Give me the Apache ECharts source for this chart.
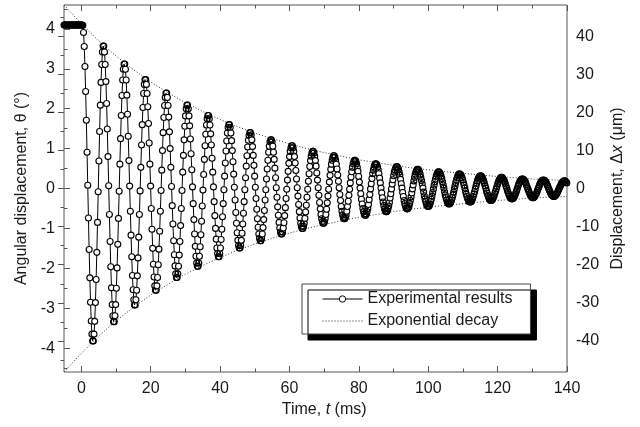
<!DOCTYPE html>
<html>
<head>
<meta charset="utf-8">
<script src="https://cdn.jsdelivr.net/npm/echarts@6/dist/echarts.min.js"></script>
<style>
  html, body { margin: 0; padding: 0; background: #fff; }
  #chart { width: 640px; height: 427px; }
</style>
</head>
<body>
<div id="chart"></div>
<script>
// sampled angular displacement (deg), one value per sample clock tick
const sampleStart = -5;      // ms
const sampleStep = 0.2013;   // ms
const thetaDeg = [
  // held at the start position before release
  4.1,4.1,4.1,4.1,4.1,4.1,4.1,4.1,4.1,4.1,4.1,4.1,4.1,4.1,4.1,4.1,4.1,4.1,4.1,4.1,4.1,4.1,4.1,4.1,4.1,4.1,4.1,
  // free oscillation, one row per period
  4.09,3.91,3.56,3.06,2.43,1.71,0.91,0.08,-0.74,-1.53,-2.24,-2.85,-3.32,-3.65,-3.82,-3.82,-3.65,-3.33,-2.86,-2.28,-1.60,-0.85,-0.08,0.69,1.43,2.09,2.66,3.11,3.42,3.57,
  3.57,3.42,3.11,2.68,2.13,1.49,0.80,0.07,-0.65,-1.33,-1.96,-2.49,-2.91,-3.19,-3.34,-3.34,-3.19,-2.91,-2.50,-1.99,-1.40,-0.75,-0.07,0.61,1.25,1.83,2.33,2.72,2.99,3.12,
  3.12,2.99,2.72,2.34,1.86,1.31,0.70,0.06,-0.57,-1.17,-1.71,-2.18,-2.54,-2.79,-2.92,-2.92,-2.79,-2.55,-2.19,-1.74,-1.22,-0.65,-0.06,0.53,1.09,1.60,2.03,2.38,2.61,2.73,
  2.73,2.61,2.38,2.05,1.63,1.14,0.61,0.06,-0.50,-1.02,-1.50,-1.90,-2.22,-2.44,-2.55,-2.55,-2.44,-2.23,-1.91,-1.52,-1.07,-0.57,-0.05,0.46,0.95,1.40,1.78,2.08,2.28,2.39,
  2.39,2.28,2.08,1.79,1.42,1.00,0.53,0.05,-0.43,-0.89,-1.31,-1.66,-1.94,-2.14,-2.23,-2.23,-2.14,-1.95,-1.67,-1.33,-0.93,-0.50,-0.05,0.41,0.83,1.22,1.56,1.82,2.00,2.09,
  2.09,2.00,1.82,1.57,1.24,0.87,0.47,0.04,-0.38,-0.78,-1.14,-1.45,-1.70,-1.87,-1.95,-1.95,-1.87,-1.70,-1.46,-1.16,-0.82,-0.44,-0.04,0.35,0.73,1.07,1.36,1.59,1.75,1.83,
  1.83,1.75,1.59,1.37,1.09,0.76,0.41,0.04,-0.33,-0.68,-1.00,-1.27,-1.49,-1.63,-1.71,-1.71,-1.63,-1.49,-1.28,-1.02,-0.71,-0.38,-0.03,0.31,0.64,0.94,1.19,1.39,1.53,1.60,
  1.60,1.53,1.39,1.20,0.95,0.67,0.36,0.03,-0.29,-0.60,-0.87,-1.11,-1.30,-1.43,-1.49,-1.49,-1.43,-1.30,-1.12,-0.89,-0.62,-0.33,-0.03,0.27,0.56,0.82,1.04,1.21,1.33,1.40,
  1.40,1.34,1.22,1.05,0.83,0.58,0.31,0.03,-0.25,-0.52,-0.76,-0.97,-1.14,-1.25,-1.31,-1.31,-1.25,-1.14,-0.98,-0.78,-0.55,-0.29,-0.03,0.24,0.49,0.71,0.91,1.06,1.17,1.22,
  1.22,1.17,1.06,0.91,0.73,0.51,0.27,0.02,-0.22,-0.46,-0.67,-0.85,-0.99,-1.09,-1.14,-1.14,-1.09,-0.99,-0.86,-0.68,-0.48,-0.25,-0.02,0.21,0.43,0.63,0.80,0.93,1.02,1.07,
  1.07,1.02,0.93,0.80,0.64,0.45,0.24,0.02,-0.19,-0.40,-0.58,-0.74,-0.87,-0.95,-1.00,-1.00,-0.95,-0.87,-0.75,-0.59,-0.42,-0.22,-0.02,0.18,0.37,0.55,0.70,0.81,0.89,0.93,
  0.93,0.89,0.81,0.70,0.56,0.39,0.21,0.02,-0.17,-0.35,-0.51,-0.65,-0.76,-0.83,-0.87,-0.87,-0.84,-0.76,-0.65,-0.52,-0.36,-0.19,-0.02,0.16,0.33,0.48,0.61,0.71,0.78,0.82,
  0.82,0.78,0.71,0.61,0.49,0.34,0.18,0.02,-0.15,-0.30,-0.45,-0.57,-0.66,-0.73,-0.76,-0.76,-0.73,-0.67,-0.57,-0.45,-0.32,-0.17,-0.02,0.14,0.29,0.42,0.53,0.62,0.68,0.71,
  0.71,0.68,0.62,0.53,0.43,0.30,0.16,0.01,-0.13,-0.27,-0.39,-0.50,-0.58,-0.64,-0.67,-0.67,-0.64,-0.58,-0.50,-0.40,-0.28,-0.15,-0.01,0.12,0.25,0.37,0.46,0.54,0.60,0.62,
  0.62,0.60,0.54,0.47,0.37,0.26,0.14,0.01,-0.11,-0.23,-0.34,-0.43,-0.51,-0.56,-0.58,-0.58,-0.56,-0.51,-0.44,-0.35,-0.24,-0.13,-0.01,0.11,0.22,0.32,0.41,0.47,0.52,0.55,
  0.55,0.52,0.48,0.41,0.33,0.23,0.12,0.01,-0.10,-0.20,-0.30,-0.38,-0.44,-0.49,-0.51,-0.51,-0.49,-0.45,-0.38,-0.30,-0.21,-0.11,-0.01,0.09,0.19,0.28,0.36,0.42,0.46,0.48,
  0.48,0.46,0.42,0.36,0.28,0.20,0.11,0.01,-0.09,-0.18,-0.26,-0.33,-0.39,-0.43,-0.45,-0.45,-0.43,-0.39,-0.33,-0.27,-0.19,-0.10,-0.01,0.08,0.17,0.24,0.31,0.36,0.40,0.42,
  0.42,0.40,0.36,0.31,0.25,0.17,0.09,0.01,-0.08,-0.16,-0.23,-0.29,-0.34,-0.37,-0.39,-0.39,-0.37,-0.34,-0.29,-0.23,-0.16,-0.09,-0.01,0.07,0.15,0.21,0.27,0.32,0.35,0.37,
  0.36,0.35,0.32,0.27,0.22,0.15,0.08,0.01,-0.07,-0.14,-0.20,-0.25,-0.30,-0.33,-0.34,-0.34,-0.33,-0.30,-0.26,-0.20,-0.14,-0.08,-0.01,0.06,0.13,0.19,0.24,0.28,0.30,0.32,
  0.32,0.30,0.28,0.24,0.19,0.13,0.07,0.01,-0.06,-0.12,-0.17,-0.22,-0.26,-0.29,-0.30,-0.30,-0.29,-0.26,-0.22,-0.18,-0.12,-0.07,-0.01,0.05,0.11,0.16,0.21,0.24,0.27,0.28,
  0.28,0.27,0.24,0.21,0.17,0.12,0.06,0.01,-0.05,-0.10,-0.15,-0.19,-0.23,-0.25,-0.26,-0.26,-0.25,-0.23,-0.20,-0.16,-0.11,-0.06,-0.01,0.05,0.10,0.14,0.18,0.21,0.23,0.24,
  0.24,0.23,0.21,0.18,0.15,0.10,0.05,0.00,-0.04,-0.09,-0.13,-0.17,-0.20,-0.22,-0.23,-0.23,-0.22,-0.20,-0.17,-0.14,-0.10,-0.05,0.00,0.04,0.09,0.13,0.16,0.19,0.20,0.21,
  0.21,0.20,0.19,0.16,0.13,0.09,0.05,0.00,-0.04,-0.08,-0.12,-0.15,-0.17,-0.19,-0.20,-0.20,-0.19,-0.17,-0.15,-0.12,-0.08,-0.04,0.00,0.04,0.07,0.11,0.14,0.16,0.18,0.19,
  0.19,0.18,0.16,0.14
];

// exponential decay envelope read every 5 ms
const envTime = [-5,0,5,10,15,20,25,30,35,40,45,50,55,60,65,70,75,80,85,90,95,100,105,110,115,120,125,130,135,140];
const envUpper = [4.60,4.13,3.70,3.32,2.98,2.67,2.40,2.15,1.93,1.73,1.55,1.39,1.25,1.12,1.00,0.90,0.81,0.72,0.65,0.58,0.52,0.47,0.42,0.38,0.34,0.30,0.27,0.24,0.22,0.20];
const envLower = [-4.60,-4.13,-3.70,-3.32,-2.98,-2.67,-2.40,-2.15,-1.93,-1.73,-1.55,-1.39,-1.25,-1.12,-1.00,-0.90,-0.81,-0.72,-0.65,-0.58,-0.52,-0.47,-0.42,-0.38,-0.34,-0.30,-0.27,-0.24,-0.22,-0.20];

const seriesNames = ['Experimental results', 'Exponential decay'];

const FONT = "'Liberation Sans', Arial, sans-serif";
const INK = '#1a1a1a';
const AXIS = '#555';

const chart = echarts.init(document.getElementById('chart'), null, { renderer: 'canvas' });

const measured = thetaDeg.map((v, i) => [sampleStart + i * sampleStep, v]);
const upper = envTime.map((t, i) => [t, envUpper[i]]);
const lower = envTime.map((t, i) => [t, envLower[i]]);

const label = { color: INK, fontSize: 16, fontFamily: FONT };
const hidden = (g) => ({ gridIndex: g, type: 'value', show: false, min: 0, max: 1 });
const tick = (len) => ({ show: true, inside: true, length: len, lineStyle: { color: AXIS, width: 1 } });
const minor = { show: true, splitNumber: 2, length: 3.5, lineStyle: { color: AXIS, width: 1 } };
const richName = {
  a: { fontSize: 16, fontFamily: FONT, color: INK },
  b: { fontSize: 16, fontFamily: FONT, color: INK, fontStyle: 'italic' }
};
const dotted = { type: [1, 2], width: 1, color: '#333' };

let option = {
  animation: false,
  backgroundColor: '#fff',
  grid: [
    { left: 64, right: 73, top: 5, bottom: 55, show: true, borderColor: AXIS, borderWidth: 1, backgroundColor: 'transparent' },
    { left: 81.34, right: 73, top: 5, bottom: 55 },
    { left: 64, right: 73, top: 28.9, bottom: 78.9 },
    { left: 64, right: 73, top: 8.95, bottom: 58.95 },
    { left: 64, right: 73, top: 36.1, bottom: 86.1 },
    { left: 64, right: 73, top: 17.05, bottom: 67.05 }
  ],
  xAxis: [
    { gridIndex: 0, type: 'value', min: -5, max: 140, show: false },
    {
      gridIndex: 1, type: 'value', position: 'bottom', min: 0, max: 140, interval: 20,
      axisLine: { show: false }, splitLine: { show: false },
      axisTick: tick(6), minorTick: minor,
      axisLabel: Object.assign({ margin: 9 }, label),
      name: '{a|Time, }{b|t}{a| (ms)}', nameLocation: 'middle', nameGap: 30,
      nameTextStyle: { rich: richName }
    },
    {
      gridIndex: 1, type: 'value', position: 'top', min: 0, max: 140, interval: 20,
      axisLine: { show: false }, splitLine: { show: false },
      axisTick: tick(6), minorTick: minor, axisLabel: { show: false }
    },
    hidden(2), hidden(3), hidden(4), hidden(5)
  ],
  yAxis: [
    { gridIndex: 0, type: 'value', min: -4.6, max: 4.6, show: false },
    hidden(1),
    {
      gridIndex: 2, type: 'value', position: 'left', min: -4, max: 4, interval: 1,
      axisLine: { show: false }, splitLine: { show: false },
      axisTick: tick(6), minorTick: minor,
      axisLabel: Object.assign({ margin: 9 }, label),
      name: 'Angular displacement, θ (°)', nameLocation: 'middle', nameGap: 30, nameRotate: 90,
      nameTextStyle: label
    },
    {
      gridIndex: 3, type: 'value', position: 'left', min: -4.5, max: 4.5, interval: 9,
      axisLine: { show: false }, splitLine: { show: false },
      axisTick: tick(3.5), axisLabel: { show: false }
    },
    {
      gridIndex: 4, type: 'value', position: 'right', min: -40, max: 40, interval: 10,
      axisLine: { show: false }, splitLine: { show: false },
      axisTick: tick(6), minorTick: minor,
      axisLabel: Object.assign({ margin: 9 }, label),
      name: '{a|Displacement, Δ}{b|x}{a| (μm)}', nameLocation: 'middle', nameGap: 43, nameRotate: 90,
      nameTextStyle: { rich: richName }
    },
    {
      gridIndex: 5, type: 'value', position: 'right', min: -45, max: 45, interval: 90,
      axisLine: { show: false }, splitLine: { show: false },
      axisTick: tick(3.5), axisLabel: { show: false }
    }
  ],
  legend: {
    orient: 'vertical',
    left: 302,
    top: 284,
    padding: [7, 18, 5, 20],
    itemGap: 6,
    itemWidth: 40,
    itemHeight: 8,
    backgroundColor: '#fff',
    borderColor: '#444',
    borderWidth: 1,
    shadowColor: '#000',
    shadowBlur: 0,
    shadowOffsetX: 6,
    shadowOffsetY: 6,
    textStyle: label,
    data: [
      {
        name: seriesNames[0],
        itemStyle: { color: '#fff', borderColor: '#000', borderWidth: 1 },
        lineStyle: { color: '#000', width: 1 }
      },
      { name: seriesNames[1], itemStyle: { opacity: 0 }, lineStyle: { type: [1, 2], width: 1, color: '#222' } }
    ]
  },
  series: [
    {
      name: seriesNames[1], type: 'line', xAxisIndex: 0, yAxisIndex: 0,
      data: upper, symbol: 'none', silent: true,
      lineStyle: dotted, itemStyle: { color: '#333' }
    },
    {
      name: seriesNames[1], type: 'line', xAxisIndex: 0, yAxisIndex: 0,
      data: lower, symbol: 'none', silent: true,
      lineStyle: dotted, itemStyle: { color: '#333' }
    },
    {
      name: seriesNames[0], type: 'line', xAxisIndex: 0, yAxisIndex: 0,
      data: measured,
      symbol: 'circle', symbolSize: 6, showAllSymbol: true,
      lineStyle: { color: '#000', width: 1 },
      itemStyle: { color: '#fff', borderColor: '#000', borderWidth: 1.1 },
      z: 3
    }
  ]
};

chart.setOption(option);

// where neighbouring markers pile on top of each other, draw them hollow so
// the overlapping outlines build up into a solid band
const px = measured.map((p) => chart.convertToPixel({ gridIndex: 0 }, p));
const dist = (a, b) => Math.hypot(a[0] - b[0], a[1] - b[1]);
const styled = measured.map((p, i) => {
  const dPrev = i > 0 ? dist(px[i], px[i - 1]) : Infinity;
  const dNext = i < px.length - 1 ? dist(px[i], px[i + 1]) : Infinity;
  const crowded = Math.min(dPrev, dNext) < 4;
  return crowded ? { value: p, itemStyle: { color: 'rgba(255,255,255,0)' } } : { value: p };
});
chart.setOption({ series: [{}, {}, { data: styled }] });
</script>
</body>
</html>
